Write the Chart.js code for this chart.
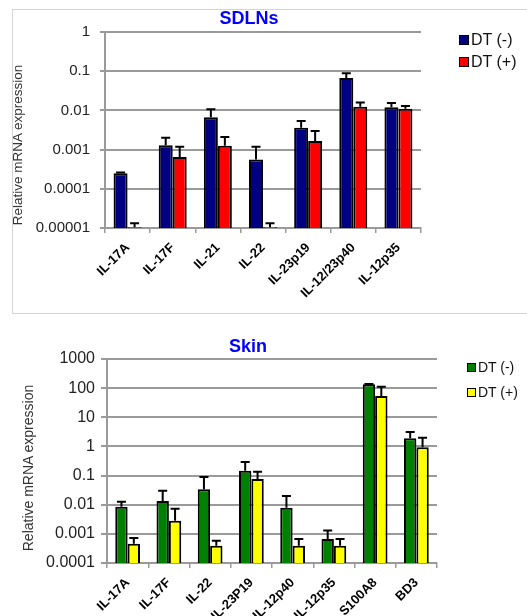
<!DOCTYPE html>
<html>
<head>
<meta charset="utf-8">
<script src="https://cdn.jsdelivr.net/npm/chart.js@4.4.0/dist/chart.umd.min.js"></script>
<style>
  body { margin: 0; width: 527px; height: 616px; overflow: hidden; background: #fff; font-family: Arial, "Liberation Sans", sans-serif; position: relative; }
  .frame { position: absolute; left: 12px; top: 9px; width: 560px; height: 303px; border: 1px solid #d4d4d4; }
  canvas { position: absolute; left: 0; }
  #chartTop { top: 0; }
  #chartSkin { top: 300px; }
  .titulo { position: absolute; color: #0000ff; font-weight: bold; font-size: 18px; transform: translate(-50%, -50%); white-space: nowrap; }
  .eixoY { position: absolute; color: #333; font-size: 13.5px; white-space: nowrap; transform: translate(-50%, -50%) rotate(-90deg); }
  .legenda { position: absolute; color: #111; white-space: nowrap; }
  .legenda div { display: flex; align-items: center; }
  .legenda span.cx { display: inline-block; border: 1px solid #000; box-sizing: border-box; margin-right: 2px; }
</style>
</head>
<body>
<div class="frame"></div>
<canvas id="chartTop" width="527" height="300"></canvas>
<canvas id="chartSkin" width="527" height="316"></canvas>

<div class="titulo" style="left:249px; top:18px;">SDLNs</div>
<div class="titulo" style="left:248px; top:346px;">Skin</div>
<div class="eixoY" style="left:17px; top:145px;">Relative mRNA expression</div>
<div class="eixoY" style="left:28px; top:468px; font-size:14px;">Relative mRNA expression</div>

<div class="legenda" style="left:459px; top:29px; font-size:16px; line-height:22px;">
  <div><span class="cx" style="width:10px;height:10px;background:#000080"></span>DT (-)</div>
  <div><span class="cx" style="width:10px;height:10px;background:#ff0000"></span>DT (+)</div>
</div>
<div class="legenda" style="left:467px; top:355px; font-size:14px; line-height:25px;">
  <div><span class="cx" style="width:9px;height:9px;background:#008000"></span>DT (-)</div>
  <div><span class="cx" style="width:9px;height:9px;background:#ffff00"></span>DT (+)</div>
</div>

<script>
// SDLNs
const genesSdln = ["IL-17A", "IL-17F", "IL-21", "IL-22", "IL-23p19", "IL-12/23p40", "IL-12p35"];
const sdlnNeg = [0.00025, 0.0013, 0.0067, 0.00056, 0.0036, 0.067, 0.012];
const sdlnNegSd = [0.00001, 0.0007, 0.004, 0.00062, 0.0018, 0.022, 0.0035];
const sdlnPos = [0.0000105, 0.00065, 0.00126, 0.0000105, 0.00165, 0.0124, 0.011];
const sdlnPosSd = [0.0000027, 0.00053, 0.00084, 0.0000027, 0.00135, 0.0034, 0.0019];
const ticksSdln = [1, 0.1, 0.01, 0.001, 0.0001, 0.00001];

// Skin
const genesSkin = ["IL-17A", "IL-17F", "IL-22", "IL-23P19", "IL-12p40", "IL-12p35", "S100A8", "BD3"];
const skinNeg = [0.0085, 0.0134, 0.034, 0.147, 0.0079, 0.00066, 135, 1.9];
const skinNegSd = [0.0041, 0.0166, 0.055, 0.143, 0.0121, 0.00064, 4, 1.2];
const skinPos = [0.00046, 0.0028, 0.00039, 0.076, 0.00039, 0.00039, 54, 0.94];
const skinPosSd = [0.00026, 0.0045, 0.00019, 0.06, 0.00027, 0.00027, 58, 1.06];
const ticksSkin = [1000, 100, 10, 1, 0.1, 0.01, 0.001, 0.0001];

// desenha as barras de erro (s칩 para cima, como no Excel)
const barrasErro = {
  id: "barrasErro",
  afterDatasetsDraw(chart) {
    const ctx = chart.ctx;
    const y = chart.scales.y;
    ctx.save();
    ctx.strokeStyle = "#000";
    ctx.lineWidth = 2;
    chart.data.datasets.forEach((ds, i) => {
      const meta = chart.getDatasetMeta(i);
      meta.data.forEach((bar, j) => {
        const topo = y.getPixelForValue(ds.data[j] + ds.sd[j]);
        ctx.beginPath();
        ctx.moveTo(bar.x, bar.y);
        ctx.lineTo(bar.x, topo);
        ctx.moveTo(bar.x - 4.5, topo);
        ctx.lineTo(bar.x + 4.5, topo);
        ctx.stroke();
      });
    });
    ctx.restore();
  }
};

function criarGrafico(id, genes, neg, negSd, pos, posSd, cores, ticks, cfg) {
  const ctx = document.getElementById(id).getContext("2d");
  return new Chart(ctx, {
    type: "bar",
    data: {
      labels: genes,
      datasets: [
        { label: "DT (-)", data: neg, sd: negSd, backgroundColor: cores[0], borderColor: "#000", borderWidth: 2 },
        { label: "DT (+)", data: pos, sd: posSd, backgroundColor: cores[1], borderColor: "#000", borderWidth: 2 }
      ]
    },
    options: {
      responsive: false,
      animation: false,
      events: [],
      datasets: { bar: { categoryPercentage: cfg.catPct, barPercentage: 1 } },
      layout: { padding: { left: 0, top: cfg.top, right: cfg.right, bottom: 0 } },
      plugins: { legend: { display: false }, title: { display: false }, tooltip: { enabled: false } },
      scales: {
        x: {
          afterFit: s => { s.height = cfg.xHeight; },
          grid: { display: true, drawOnChartArea: false, offset: true, color: "#9a9a9a", lineWidth: 1.5, tickLength: 5 },
          border: { color: "#9a9a9a", width: 2 },
          ticks: {
            autoSkip: false, maxRotation: 45, minRotation: 45, padding: 7,
            color: "#000", font: { family: "Arial, 'Liberation Sans'", size: 13, weight: "bold" }
          }
        },
        y: {
          type: "logarithmic",
          min: ticks[ticks.length - 1],
          max: ticks[0],
          afterFit: s => { s.width = cfg.yWidth; },
          afterBuildTicks: s => { s.ticks = ticks.slice().reverse().map(v => ({ value: v, major: true })); },
          grid: { color: "#9a9a9a", lineWidth: 2, tickLength: cfg.tickLen },
          border: { color: "#9a9a9a", width: 2 },
          ticks: {
            padding: cfg.tickPad,
            color: "#222",
            font: { family: "Arial, 'Liberation Sans'", size: cfg.yFont },
            callback: v => String(v)
          }
        }
      }
    },
    plugins: [barrasErro]
  });
}

criarGrafico("chartTop", genesSdln, sdlnNeg, sdlnNegSd, sdlnPos, sdlnPosSd, ["#000080", "#ff0000"], ticksSdln,
  { top: 32, right: 106, xHeight: 72, yWidth: 105, catPct: 0.62, tickLen: 5, tickPad: 10, yFont: 15 });

criarGrafico("chartSkin", genesSkin, skinNeg, skinNegSd, skinPos, skinPosSd, ["#008000", "#ffff00"], ticksSkin,
  { top: 59, right: 90, xHeight: 53, yWidth: 107, catPct: 0.6, tickLen: 6, tickPad: 6, yFont: 16 });
</script>
</body>
</html>
